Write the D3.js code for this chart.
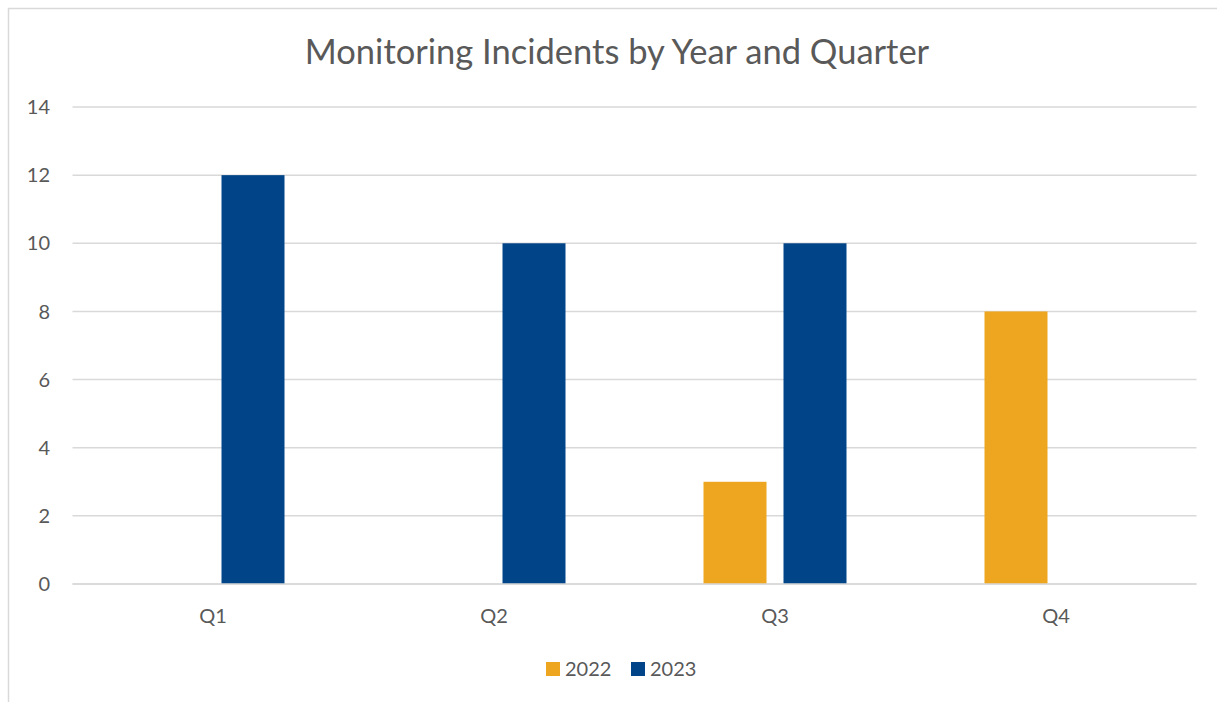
<!DOCTYPE html>
<html>
<head>
<meta charset="utf-8">
<script src="https://cdn.jsdelivr.net/npm/d3@7"></script>
<style>
  html, body { margin: 0; padding: 0; background: #fff; }
  svg { display: block; font-family: Lato, "Open Sans", sans-serif; }
</style>
</head>
<body>
<svg></svg>
<script>
const quarters = ['Q1', 'Q2', 'Q3', 'Q4'];
const years = ['2022', '2023'];
const incidents2022 = [0, 0, 3, 8];
const incidents2023 = [12, 10, 10, 0];
const yTicks = [0, 2, 4, 6, 8, 10, 12, 14];
const colors = ['#EEA520', '#014588'];

const width = 1217, height = 702;
const textColor = '#595959';

const svg = d3.select('svg')
    .attr('width', width)
    .attr('height', height);

// chart frame (runs off the right and bottom edge)
svg.append('rect')
    .attr('x', 8.5)
    .attr('y', 8.5)
    .attr('width', width + 20)
    .attr('height', height + 20)
    .attr('fill', 'none')
    .attr('stroke', '#D9D9D9')
    .attr('stroke-width', 1.5);

const x = d3.scaleBand()
    .domain(quarters)
    .range([72.5, 1196.5])
    .padding(0);

const xInner = d3.scaleBand()
    .domain(years)
    .range([0, x.bandwidth()])
    .paddingInner(0.2125)
    .paddingOuter(0.8625);

const y = d3.scaleLinear()
    .domain([0, 14])
    .range([584, 107]);

// gridlines
svg.append('g')
    .selectAll('line')
    .data(yTicks)
    .join('line')
    .attr('x1', x.range()[0])
    .attr('x2', x.range()[1])
    .attr('y1', d => y(d))
    .attr('y2', d => y(d))
    .attr('stroke', '#D9D9D9')
    .attr('stroke-width', 1.5);

// y labels
svg.append('g')
    .selectAll('text')
    .data(yTicks)
    .join('text')
    .attr('x', 50)
    .attr('y', d => y(d))
    .attr('dy', '0.36em')
    .attr('text-anchor', 'end')
    .attr('fill', textColor)
    .attr('font-size', 20)
    .text(d => d);

// bars
const rows = quarters.map((q, i) => ({ q, values: [incidents2022[i], incidents2023[i]] }));

svg.append('g')
    .selectAll('g')
    .data(rows)
    .join('g')
    .attr('transform', d => `translate(${x(d.q)},0)`)
    .selectAll('rect')
    .data(d => d.values.map((v, j) => ({ year: years[j], v, j })).filter(e => e.v > 0))
    .join('rect')
    .attr('x', d => xInner(d.year))
    .attr('width', xInner.bandwidth())
    .attr('y', d => y(d.v))
    .attr('height', d => y(0) - y(d.v))
    .attr('fill', d => colors[d.j]);

// redraw the zero line on top
svg.append('line')
    .attr('x1', x.range()[0])
    .attr('x2', x.range()[1])
    .attr('y1', y(0))
    .attr('y2', y(0))
    .attr('stroke', '#D9D9D9')
    .attr('stroke-width', 1.5);

// category labels
svg.append('g')
    .selectAll('text')
    .data(quarters)
    .join('text')
    .attr('x', d => x(d) + x.bandwidth() / 2)
    .attr('y', 623)
    .attr('text-anchor', 'middle')
    .attr('fill', textColor)
    .attr('font-size', 20)
    .text(d => d);

// title
svg.append('text')
    .attr('x', 617)
    .attr('y', 64)
    .attr('text-anchor', 'middle')
    .attr('fill', textColor)
    .attr('font-size', 34.5)
    .text('Monitoring Incidents by Year and Quarter');

// legend
const legendX = [546, 631];
const legend = svg.append('g')
    .selectAll('g')
    .data(years)
    .join('g')
    .attr('transform', (d, i) => `translate(${legendX[i]},0)`);

legend.append('rect')
    .attr('x', 0)
    .attr('y', 662)
    .attr('width', 14)
    .attr('height', 14)
    .attr('fill', (d, i) => colors[i]);

legend.append('text')
    .attr('x', 19)
    .attr('y', 676)
    .attr('fill', textColor)
    .attr('font-size', 20)
    .text(d => d);
</script>
</body>
</html>
